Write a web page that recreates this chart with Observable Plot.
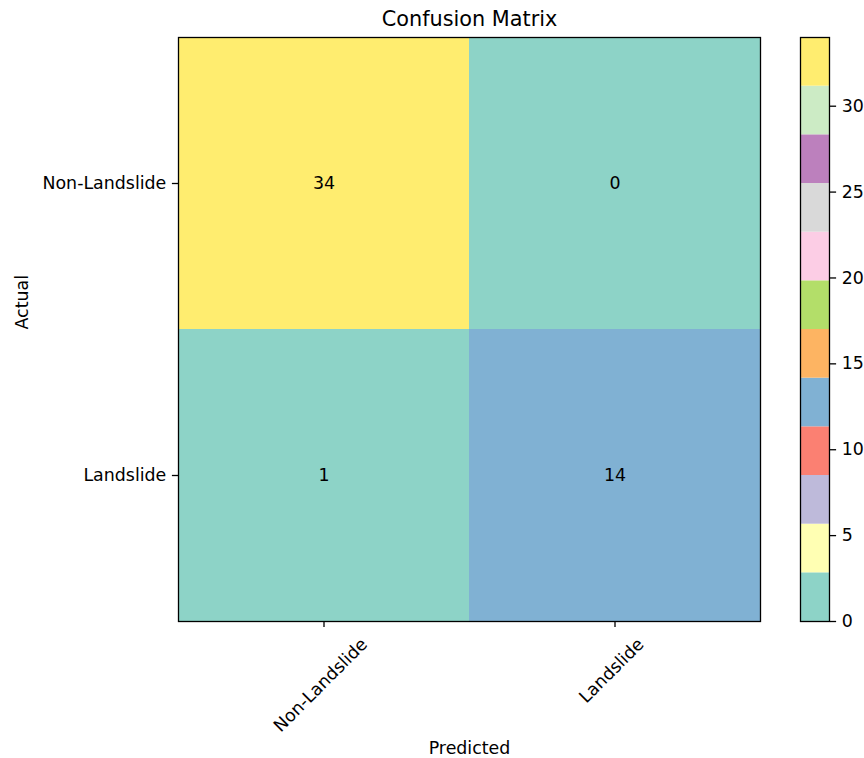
<!DOCTYPE html>
<html>
<head>
<meta charset="utf-8">
<script src="https://cdn.jsdelivr.net/npm/d3@7"></script>
<script src="https://cdn.jsdelivr.net/npm/@observablehq/plot@0.6"></script>
<style>
  html, body { margin: 0; padding: 0; background: white; }
  #wrap { position: relative; width: 864px; height: 758px; }
  #wrap svg { position: absolute; left: 0; top: 0; }
</style>
</head>
<body>
<div id="wrap"></div>
<script>
const actualLabels = ["Non-Landslide", "Landslide"];
const predictedLabels = ["Non-Landslide", "Landslide"];
const counts = [[34, 0], [1, 14]];
const set3 = ["#8dd3c7", "#ffffb3", "#bebada", "#fb8072", "#80b1d3", "#fdb462",
              "#b3de69", "#fccde5", "#d9d9d9", "#bc80bd", "#ccebc5", "#ffed6f"];
const colorMin = 0, colorMax = 34;
const colorTicks = [0, 5, 10, 15, 20, 25, 30];

const cells = [];
actualLabels.forEach((a, i) => predictedLabels.forEach((p, j) => cells.push({actual: a, predicted: p, value: counts[i][j]})));
const step = (colorMax - colorMin) / set3.length;
const thresholds = d3.range(1, set3.length).map(i => colorMin + i * step);
const bands = set3.map((c, i) => ({y1: colorMin + i * step, y2: colorMin + (i + 1) * step, fill: c}));

const FS = 17.4, TFS = 20.8, TICK = 6.1, PAD = 6.1, LW = 1.3;
const font = {fontFamily: "'DejaVu Sans', sans-serif", fontSize: FS + "px", color: "black"};
const M = {top: 37, bottom: 137};

const main = Plot.plot({
  width: 864, height: 758,
  marginLeft: 178, marginRight: 104, marginTop: M.top, marginBottom: M.bottom,
  style: {...font, background: "white"},
  x: {type: "band", domain: predictedLabels, padding: 0, label: null},
  y: {type: "band", domain: actualLabels, padding: 0, label: null},
  color: {type: "threshold", domain: thresholds, range: set3},
  marks: [
    Plot.cell(cells, {x: "predicted", y: "actual", fill: "value"}),
    Plot.text(cells, {x: "predicted", y: "actual", text: d => String(d.value), fill: "black", fontSize: FS}),
    Plot.frame({stroke: "black", strokeWidth: LW}),
    Plot.axisY({tickSize: TICK, tickPadding: PAD, stroke: "black", strokeWidth: LW, fontSize: FS, label: null}),
    Plot.axisX({tickSize: TICK, text: null, stroke: "black", strokeWidth: LW, label: null}),
    Plot.text(predictedLabels, {x: d => d, frameAnchor: "bottom", text: d => d, rotate: -45, textAnchor: "middle", lineAnchor: "middle", fontSize: FS, fill: "black", className: "xlab"}),
    Plot.text(["Predicted"], {frameAnchor: "bottom", dy: 127, text: d => d, fontSize: FS, fill: "black", lineAnchor: "middle"}),
    Plot.text(["Actual"], {frameAnchor: "left", dx: -156, rotate: -90, text: d => d, fontSize: FS, fill: "black", lineAnchor: "middle"}),
    Plot.text(["Confusion Matrix"], {frameAnchor: "top", dy: -18, text: d => d, fontSize: TFS, fill: "black", lineAnchor: "middle"})
  ]
});

const cbar = Plot.plot({
  width: 864, height: 758,
  marginLeft: 800, marginRight: 35, marginTop: M.top, marginBottom: M.bottom,
  style: {...font, background: "transparent"},
  x: {domain: [0, 1], axis: null},
  y: {domain: [colorMin, colorMax], label: null},
  marks: [
    Plot.rectY(bands, {x1: 0, x2: 1, y1: "y1", y2: "y2", fill: "fill"}),
    Plot.frame({stroke: "black", strokeWidth: LW}),
    Plot.axisY({anchor: "right", ticks: colorTicks, tickSize: TICK, tickPadding: PAD, stroke: "black", strokeWidth: LW, fontSize: FS, label: null})
  ]
});

const wrap = document.getElementById("wrap");
wrap.appendChild(main);
wrap.appendChild(cbar);

// Position rotated x tick labels like matplotlib (bbox centered under the tick)
const xs = main.scale("x");
const yBottom = 758 - M.bottom;
d3.select(main).selectAll("g.xlab text").each(function(d, i) {
  const L = this.getComputedTextLength();
  const h = FS * 1.17;
  const half = (L + h) * Math.SQRT1_2 / 2;
  const label = predictedLabels[i];
  const cx = xs.apply(label) + xs.bandwidth / 2 + 1;
  const cy = yBottom + TICK + PAD + half + 5;
  this.setAttribute("transform", `translate(${cx},${cy}) rotate(-45)`);
  this.removeAttribute("x"); this.removeAttribute("y");
});
d3.select(main).selectAll("g.xlab").attr("transform", null);
</script>
</body>
</html>
